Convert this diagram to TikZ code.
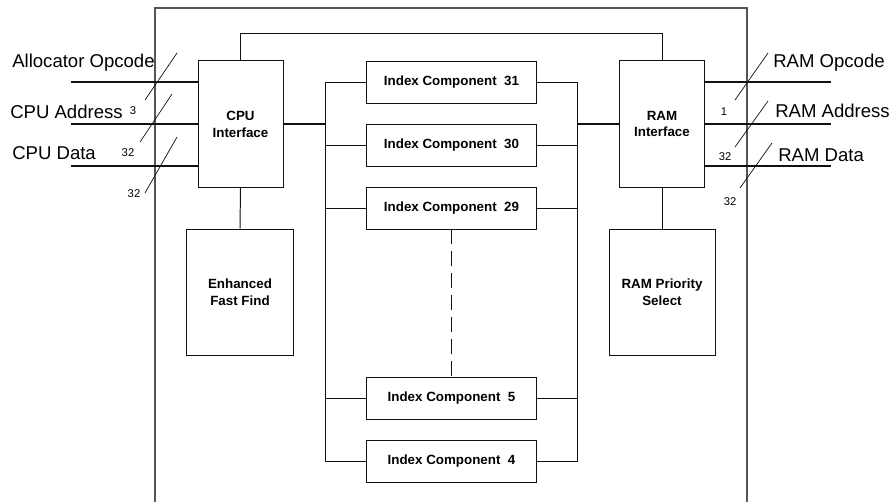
\documentclass[tikz,border=0pt]{standalone}
\usepackage{fontspec}
\setmainfont{Liberation Sans}
\usetikzlibrary{positioning}
\definecolor{ink}{HTML}{111111}
\definecolor{frm}{HTML}{555555}

\begin{document}
\begin{tikzpicture}[
  x=0.025cm, y=-0.025cm,
  unit/.style={draw=ink, line width=0.7pt, minimum width=2.125cm, minimum height=3.15cm, align=center, font=\fontsize{9.5}{12}\selectfont\bfseries, inner sep=0pt},
  side/.style={draw=ink, line width=0.7pt, minimum width=2.65cm, minimum height=3.15cm, align=center, font=\fontsize{9.5}{12}\selectfont\bfseries, inner sep=0pt},
  icomp/.style={draw=ink, line width=0.7pt, minimum width=4.225cm, minimum height=1.05cm, align=center, font=\fontsize{9.5}{12}\selectfont\bfseries, inner sep=0pt},
  wire/.style={draw=ink, line width=0.7pt},
  bus/.style={draw=ink, line width=1.4pt},
  slash/.style={draw=ink, line width=0.5pt},
  sname/.style={font=\fontsize{13.2}{15}\selectfont, inner sep=0pt},
  width/.style={font=\fontsize{8}{9}\selectfont, inner sep=0pt},
]
\useasboundingbox (0,0) rectangle (892,502);

% outer frame, open at the bottom
\draw[frm, line width=0.8pt] (155,502) |- (747,8) -- (747,502);

\node[unit] (cpu) at (240.5,124) {CPU\\Interface};
\node[unit] (ram) at (662,124) {RAM\\Interface};
\node[side] (eff) at (240,292) {Enhanced\\Fast Find};
\node[side] (rps) at (662,292) {RAM Priority\\Select};

\node[icomp] (ic31) at (451.5,82) {Index Component\ \ 31};
\node[icomp] (ic30) at (451.5,145) {Index Component\ \ 30};
\node[icomp] (ic29) at (451.5,208) {Index Component\ \ 29};
\node[icomp] (ic5) at (451.5,398) {Index Component\ \ 5};
\node[icomp] (ic4) at (451.5,461) {Index Component\ \ 4};

\coordinate (lbus) at (325,0);
\coordinate (rbus) at (577,0);

% buses to the index components
\draw[wire] (ic31.west) -- (ic31.west -| lbus) -- (ic4.west -| lbus) -- (ic4.west);
\draw[wire] (ic31.east) -- (ic31.east -| rbus) -- (ic4.east -| rbus) -- (ic4.east);
\foreach \c in {ic30,ic29,ic5} {
  \draw[wire] (\c.west) -- (\c.west -| lbus);
  \draw[wire] (\c.east) -- (\c.east -| rbus);
}
\draw[bus, dash pattern=on 10.6pt off 5pt] (ic29.south) -- (ic5.north);

\draw[bus] (cpu.east) -- (cpu.east -| lbus);
\draw[bus] (ram.west) -- (ram.west -| rbus);
\draw[wire] (cpu.south) -- (eff.north);
\draw[wire] (ram.south) -- (rps.north);
\draw[wire] (cpu.north) -- ++(0,-27) -| (ram.north);

% CPU side signals
\coordinate (aop) at (71,82);
\coordinate (cadr) at (71,124);
\coordinate (cdat) at (71,166);
\draw[bus] (aop) -- (aop -| cpu.west);
\draw[bus] (cadr) -- (cadr -| cpu.west);
\draw[bus] (cdat) -- (cdat -| cpu.west);
\node[sname, anchor=west] (aopl) at (12,63) {Allocator Opcode};
\node[sname, anchor=west] (cadrl) at (10,112) {CPU Address};
\node[sname, anchor=west] (cdatl) at (12,153) {CPU Data};
\coordinate (s1) at (161,76.5);
\coordinate (s2) at (156,118);
\coordinate (s3) at (161,165);
\draw[slash] ([shift={(-16,23.5)}]s1) -- ([shift={(16,-23.5)}]s1);
\draw[slash] ([shift={(-16,24)}]s2) -- ([shift={(16,-24)}]s2);
\draw[slash] ([shift={(-16,28)}]s3) -- ([shift={(16,-28)}]s3);
\node[width] (w1) at (133,111) {3};
\node[width] (w2) at (128,153) {32};
\node[width] (w3) at (134,194) {32};

% RAM side signals
\coordinate (rop) at (831,82);
\coordinate (radr) at (831,124);
\coordinate (rdat) at (831,166);
\draw[bus] (ram.east |- rop) -- (rop);
\draw[bus] (ram.east |- radr) -- (radr);
\draw[bus] (ram.east |- rdat) -- (rdat);
\node[sname, anchor=west] (ropl) at (773,63) {RAM Opcode};
\node[sname, anchor=west] (radrl) at (775,111) {RAM Address};
\node[sname, anchor=west] (rdatl) at (778,155) {RAM Data};
\coordinate (s4) at (751.5,76.5);
\coordinate (s5) at (751.5,124);
\coordinate (s6) at (756,165.5);
\draw[slash] ([shift={(-16.5,23.5)}]s4) -- ([shift={(16.5,-23.5)}]s4);
\draw[slash] ([shift={(-16.5,23)}]s5) -- ([shift={(16.5,-23)}]s5);
\draw[slash] ([shift={(-16,22.5)}]s6) -- ([shift={(16,-22.5)}]s6);
\node[width] (w4) at (724,112) {1};
\node[width] (w5) at (725,157) {32};
\node[width] (w6) at (730,202) {32};

\end{tikzpicture}
\end{document}
